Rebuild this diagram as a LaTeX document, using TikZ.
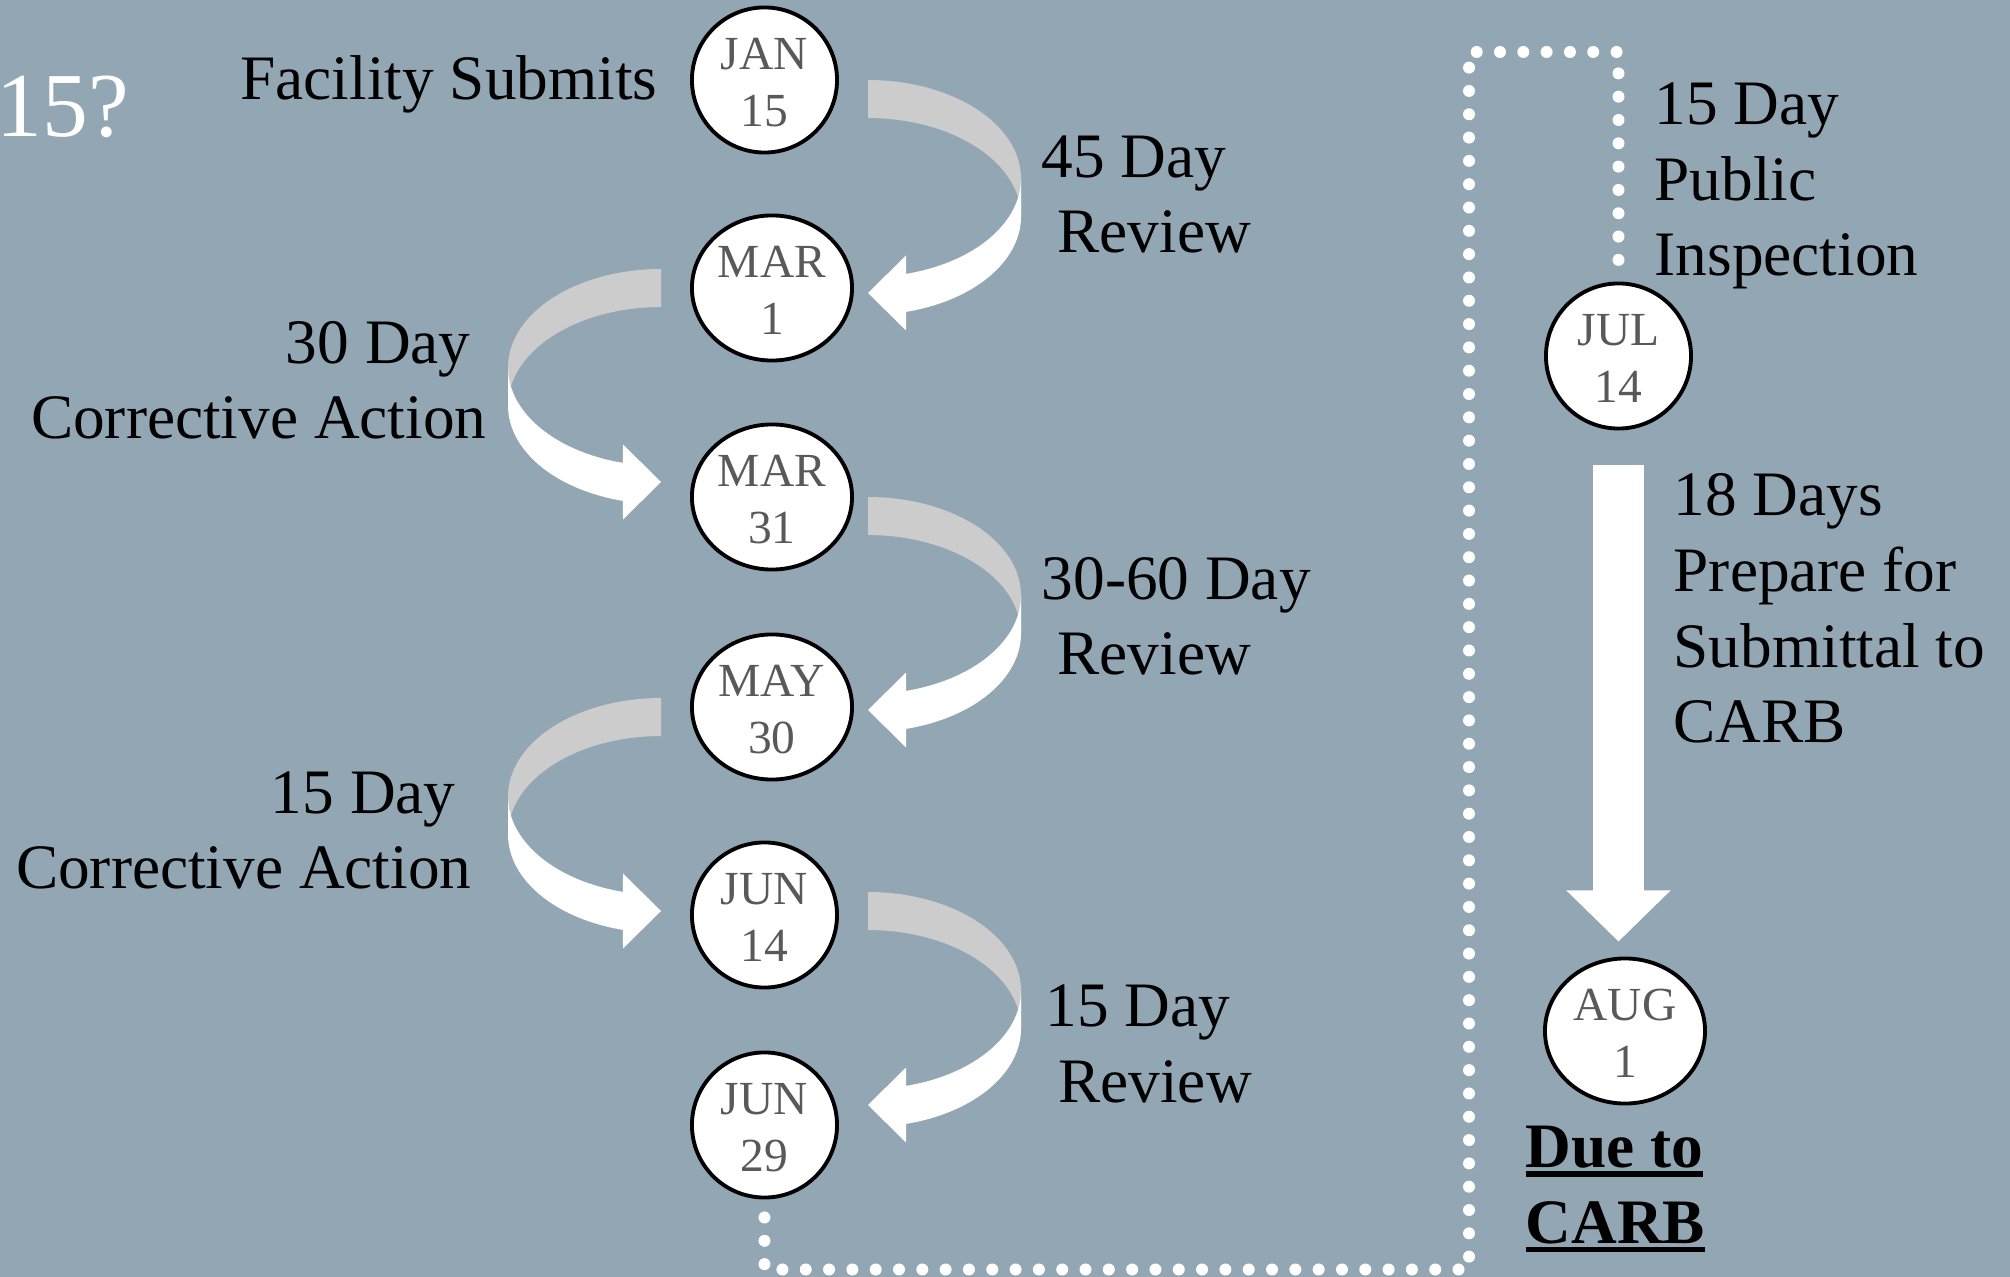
\documentclass[tikz,border=0pt]{standalone}
\usepackage{fontspec}
\setmainfont{Liberation Serif}
\usetikzlibrary{shapes.geometric, arrows.meta}

\definecolor{slate}{RGB}{146,167,179}
\colorlet{ribbon}{gray!40}
\newcommand{\dt}[2]{\smash{\raisebox{-5.5pt}{\makebox[0pt]{\begin{tabular}{@{}c@{}}#1\\#2\end{tabular}}}}}
\newcommand{\ulbf}[1]{\leavevmode\vtop{\hbox{\bfseries #1}\kern1pt\hrule height1.5pt}}

\begin{document}
\begin{tikzpicture}[x=0.01cm, y=-0.01cm,
  date/.style={ellipse, draw, line width=1.1pt, fill=white, minimum width=1.45cm,
    minimum height=1.45cm, inner sep=0pt, text=black!65, anchor=west,
    font=\fontsize{13.5}{16.2}\selectfont},
  wide/.style={minimum width=1.6cm},
  lbl/.style={inner sep=0pt, font=\fontsize{18}{21.6}\selectfont},
  dotline/.style={white, line width=0.12cm, line cap=round, dash pattern=on 0pt off 0.233cm},
  bigarrow/.style={white, line width=0.5cm, -{Triangle[length=0.51cm, width=1.01cm]}}]
  % Background
  \fill[slate] (0,0) rectangle (2010,1277);
  \useasboundingbox (0,0) rectangle (2010,1277);
  \node[lbl, text=white, font=\fontsize{26}{31}\selectfont, anchor=base west] (q) at (-4,137) {15?};
  % Dates, first column
  \node[date] (jan) at (690,80) {\dt{JAN}{15}};
  \node[date, wide] (mar1) at (690,288) {\dt{MAR}{1}};
  \node[date, wide] (mar31) at (690,497) {\dt{MAR}{31}};
  \node[date, wide] (may30) at (690,707) {\dt{MAY}{30}};
  \node[date] (jun14) at (690,915) {\dt{JUN}{14}};
  \node[date] (jun29) at (690,1125) {\dt{JUN}{29}};
  % Dates, second column
  \node[date] (jul14) at (1544,356) {\dt{JUL}{14}};
  \node[date, wide] (aug1) at (1543,1031) {\dt{AUG}{1}};
  % Curved arrows on the right
  \foreach \n/\d in {jan/0, mar31/0, jun14/-23} {
    \begin{scope}[shift={(\n.west)}]
      \fill[ribbon] plot[domain=90:0, samples=40, variable=\t] ({178+153*cos(\t)},{\d+98.5-98.5*sin(\t)})
        -- plot[domain=0:90, samples=40, variable=\t] ({178+153*cos(\t)},{\d+136.5-98.5*sin(\t)}) -- cycle;
      \fill[white] plot[domain=0:-75.6, samples=40, variable=\t] ({178+153*cos(\t)},{\d+98.5-98.5*sin(\t)})
        -- (216,{\d+175.5}) -- (178,{\d+213}) -- (216,{\d+250.5})
        -- plot[domain=-75.6:0, samples=40, variable=\t] ({178+153*cos(\t)},{\d+136.5-98.5*sin(\t)}) -- cycle;
    \end{scope}
  }
  % Curved arrows on the left
  \foreach \n/\d in {mar1/-19, may30/-9} {
    \begin{scope}[shift={(\n.west)}]
      \fill[ribbon] plot[domain=90:0, samples=40, variable=\t] ({-29-153*cos(\t)},{\d+98.5-98.5*sin(\t)})
        -- plot[domain=0:90, samples=40, variable=\t] ({-29-153*cos(\t)},{\d+136.5-98.5*sin(\t)}) -- cycle;
      \fill[white] plot[domain=0:-75.6, samples=40, variable=\t] ({-29-153*cos(\t)},{\d+98.5-98.5*sin(\t)})
        -- (-67,{\d+175.5}) -- (-29,{\d+213}) -- (-67,{\d+250.5})
        -- plot[domain=-75.6:0, samples=40, variable=\t] ({-29-153*cos(\t)},{\d+136.5-98.5*sin(\t)}) -- cycle;
    \end{scope}
  }
  % Straight arrow
  \draw[bigarrow, shorten <=0.35cm, shorten >=0.15cm] (jul14.south) -- (jul14.south |- aug1.north);
  % Dotted path
  \coordinate (corner) at (1469,52);
  \draw[dotline, shorten <=0.18cm, shorten >=0.2cm] (jun29.south) -- ++(0,70) -| (corner) -| (jul14.north);
  % Labels (base = last line)
  \node[lbl, anchor=base east] (fs) at (658,100) {Facility Submits};
  \node[lbl, anchor=base west, align=left] (rev1) at (1041,253) {45 Day\\\hspace*{.25em}Review};
  \node[lbl, anchor=base east, align=right] (ca1) at (487,439) {30 Day\hspace*{.25em}\\Corrective Action};
  \node[lbl, anchor=base west, align=left] (rev2) at (1041,675) {30-60 Day\\\hspace*{.25em}Review};
  \node[lbl, anchor=base east, align=right] (ca2) at (472,889) {15 Day\hspace*{.25em}\\Corrective Action};
  \node[lbl, anchor=base west, align=left] (rev3) at (1045,1102) {15 Day\\\hspace*{.2em}Review};
  \node[lbl, anchor=base west, align=left] (insp) at (1654,276) {15 Day\\Public\\Inspection};
  \node[lbl, anchor=base west, align=left] (prep) at (1673,743) {18 Days\\Prepare for\\Submittal to\\CARB};
  \node[lbl, anchor=base west, align=left] (due) at (1525,1243) {\ulbf{Due to}\\\ulbf{CARB}};
\end{tikzpicture}
\end{document}
